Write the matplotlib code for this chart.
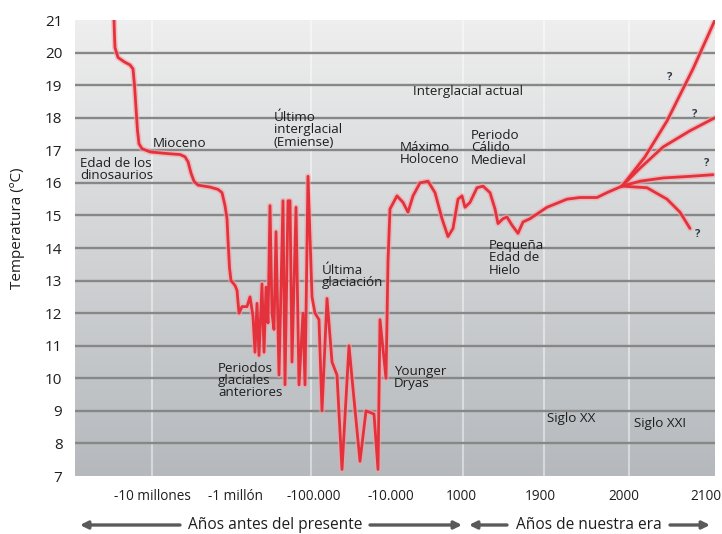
#!/usr/bin/env python3

import numpy as np
import matplotlib
matplotlib.use("Agg")
import matplotlib.pyplot as plt

plt.rcParams['font.family'] = ['Open Sans', 'DejaVu Sans']

# Time axis is not linear: positions along the axis (axis units) and labels
tick_pos = [152, 236, 314, 391, 461, 540, 624, 706]
tick_labels = ['-10 millones', '-1 millón', '-100.000', '-10.000',
               '1000', '1900', '2000', '2100']

# Main temperature record (axis position, ºC)
hist_pos = [114, 114.5, 115, 118, 124, 130, 133, 134.5, 136, 137.5, 139, 142,
            150, 167, 180, 185, 188, 191, 194, 198, 210, 218, 222, 225, 227,
            228, 229.5, 231, 235, 237, 239, 242, 247, 250, 253, 255, 257, 259,
            262, 264, 266, 268, 270, 272, 274, 276, 279, 283, 285, 288, 290,
            292, 296, 299, 303, 305, 308, 312, 315, 319, 322, 327, 332, 337,
            342, 349, 352, 360, 366, 374, 378, 380, 386, 388, 390, 397, 403,
            408, 413, 420, 428, 435, 442, 448, 453, 458, 462, 465, 470, 477,
            483, 490, 495, 498, 503, 507, 512, 518, 523, 530, 547, 567, 580,
            597, 607, 622]
hist_temp = [21.0, 20.5, 20.15, 19.85, 19.72, 19.62, 19.5, 19.0, 18.3, 17.6,
             17.2, 17.05, 16.95, 16.9, 16.87, 16.8, 16.65, 16.3, 16.05, 15.93,
             15.87, 15.8, 15.7, 15.3, 14.9, 14.25, 13.4, 13.0, 12.85, 12.7,
             12.0, 12.2, 12.2, 12.5, 11.9, 10.8, 12.3, 10.7, 12.9, 10.8, 12.8,
             11.7, 15.3, 12.0, 11.5, 14.5, 10.1, 15.45, 9.8, 15.45, 15.45,
             10.5, 15.25, 9.8, 12.0, 9.8, 16.2, 12.5, 12.0, 11.8, 9.0, 12.45,
             10.5, 10.1, 7.2, 11.0, 10.0, 7.45, 9.0, 8.9, 7.2, 11.8, 10.0,
             13.6, 15.2, 15.6, 15.4, 15.1, 15.6, 16.0, 16.05, 15.7, 14.9,
             14.35, 14.6, 15.5, 15.6, 15.25, 15.4, 15.85, 15.9, 15.7, 15.2,
             14.75, 14.9, 14.95, 14.7, 14.45, 14.8, 14.9, 15.25, 15.5, 15.55,
             15.55, 15.7, 15.9]

# Scenarios for the 21st century
scen_pos = [
    [622, 645, 667, 693, 715],
    [622, 640, 663, 690, 715],
    [622, 640, 663, 690, 713],
    [622, 647, 667, 680, 690],
]
scen_temp = [
    [15.9, 16.8, 17.9, 19.5, 21.0],
    [15.9, 16.45, 17.1, 17.6, 18.0],
    [15.9, 16.05, 16.15, 16.2, 16.25],
    [15.9, 15.85, 15.5, 15.1, 14.6],
]
qmark_pos = [670, 695, 707, 698]
qmark_temp = [19.25, 18.1, 16.6, 14.4]

# Annotations: (text, axis position, temperature at top of text)
labels = [
    ("Edad de los\ndinosaurios", 80, 16.8),
    ("Mioceno", 153, 17.42),
    ("Último\ninterglacial\n(Emiense)", 274, 18.2),
    ("Interglacial actual", 413, 19.0),
    ("Máximo\nHoloceno", 400, 17.3),
    ("Periodo\nCálido\nMedieval", 471, 17.65),
    ("Pequeña\nEdad de\nHielo", 489, 14.27),
    ("Última\nglaciación", 322, 13.5),
    ("Periodos\nglaciales\nanteriores", 218, 10.5),
    ("Younger\nDryas", 394, 10.42),
    ("Siglo XX", 547, 8.95),
    ("Siglo XXI", 634, 8.8),
]

W, H = 722, 534
fig = plt.figure(figsize=(W / 100, H / 100), dpi=100)
ax = fig.add_axes([75 / W, 1 - 476 / H, 640 / W, 456 / H])

x0, x1, y0, y1 = 75, 715, 7, 21
ax.set_xlim(x0, x1)
ax.set_ylim(y0, y1)

# gray gradient background
top = np.array([0.935, 0.935, 0.935])
bot = np.array([0.71, 0.725, 0.74])
t = np.linspace(0, 1, 256)[:, None]
grad = (top * (1 - t) + bot * t)[:, None, :]
ax.imshow(grad, extent=[x0, x1, y0, y1], aspect='auto', zorder=0,
          interpolation='bilinear')

for xp in [152, 311, 463, 544, 629]:
    ax.axvline(xp, color='white', lw=1.5, alpha=0.45, zorder=1)
for yv in range(8, 21):
    ax.axhline(yv, color='#878787', lw=1.7, zorder=1)

red = '#e3323c'
glow = '#f3a3a8'
ax.plot(hist_pos, hist_temp, color=glow, lw=4.2, alpha=0.6, zorder=2,
        solid_joinstyle='round', solid_capstyle='round')
ax.plot(hist_pos, hist_temp, color=red, lw=2.0, zorder=3,
        solid_joinstyle='round', solid_capstyle='round')
for sp, st in zip(scen_pos, scen_temp):
    ax.plot(sp, st, color=glow, lw=4.2, alpha=0.6, zorder=2,
            solid_capstyle='round')
    ax.plot(sp, st, color=red, lw=2.0, zorder=3, solid_capstyle='round')
for qp, qt in zip(qmark_pos, qmark_temp):
    ax.text(qp, qt, '?', fontsize=8, fontweight='bold', color='#2f3d48',
            ha='center', va='center', zorder=4)

for txt, xp, yt in labels:
    ax.text(xp, yt, txt, fontsize=9.6, color='#1e1e1e', ha='left', va='top',
            linespacing=0.92, zorder=4)

ax.set_yticks(range(7, 22))
ax.set_xticks(tick_pos)
ax.set_xticklabels(tick_labels)
ax.tick_params(axis='y', length=0, pad=9, labelsize=11, labelcolor='#1e1e1e')
ax.tick_params(axis='x', length=0, pad=9, labelsize=9.8, labelcolor='#1e1e1e')
for s in ax.spines.values():
    s.set_visible(False)

fig.text(18 / W, 1 - 228 / H, 'Temperatura (ºC)', rotation=90, ha='center',
         va='center', fontsize=11, color='#1e1e1e')

# bottom arrows
ybar = 1 - 525 / H
arrow = dict(arrowstyle='-|>', color='#5a5a5a', lw=2.4, mutation_scale=11,
             shrinkA=0, shrinkB=0)
ax.annotate('', xy=(80 / W, ybar), xytext=(180 / W, ybar),
            xycoords='figure fraction', arrowprops=arrow)
fig.text(275 / W, ybar, 'Años antes del presente', ha='center', va='center',
         fontsize=11.2, color='#1e1e1e')
ax.annotate('', xy=(462 / W, ybar), xytext=(370 / W, ybar),
            xycoords='figure fraction', arrowprops=arrow)
ax.annotate('', xy=(469 / W, ybar), xytext=(507 / W, ybar),
            xycoords='figure fraction', arrowprops=arrow)
fig.text(589 / W, ybar, 'Años de nuestra era', ha='center', va='center',
         fontsize=11.2, color='#1e1e1e')
ax.annotate('', xy=(710 / W, ybar), xytext=(670 / W, ybar),
            xycoords='figure fraction', arrowprops=arrow)

fig.savefig('out.png', dpi=100)
